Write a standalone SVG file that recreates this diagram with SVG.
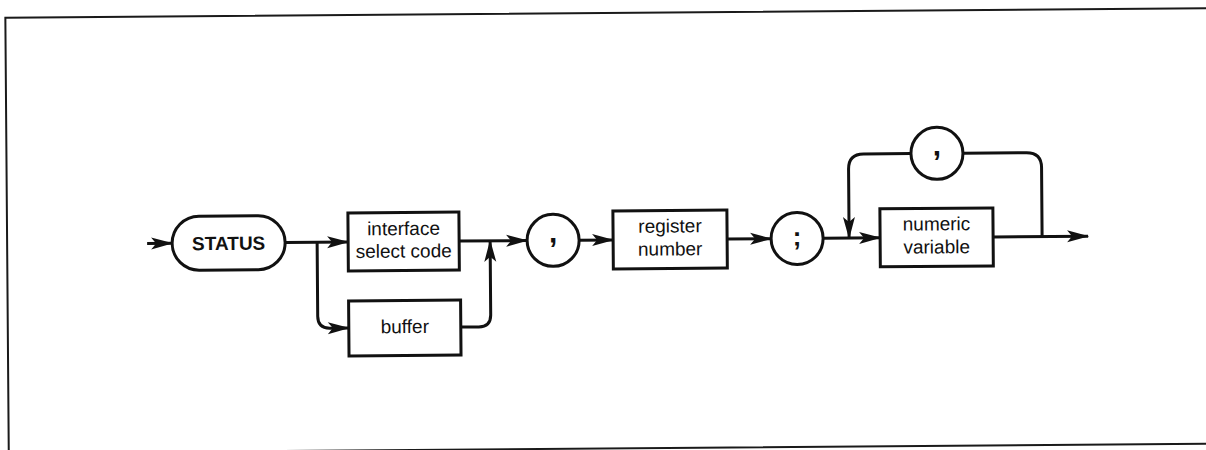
<svg xmlns="http://www.w3.org/2000/svg" width="1206" height="450" viewBox="0 0 1206 450">
  <style>
    .box { fill: #ffffff; stroke: #111111; stroke-width: 3; }
    .frame { fill: none; stroke: #1a1a1a; stroke-width: 2; }
    .line { fill: none; stroke: #111111; stroke-width: 3; }
    .lbl { font-family: "Liberation Sans", Arial, Helvetica, sans-serif; font-size: 19px; fill: #111111; text-anchor: middle; }
    .kw { font-family: "Liberation Sans", Arial, Helvetica, sans-serif; font-size: 19px; font-weight: bold; fill: #111111; text-anchor: middle; }
    .punct { font-family: "Liberation Sans", Arial, Helvetica, sans-serif; font-weight: bold; fill: #111111; text-anchor: middle; }
  </style>
  <defs>
    <marker id="arrow" viewBox="-22 -8 24 16" refX="0" refY="0" markerWidth="24" markerHeight="16" markerUnits="userSpaceOnUse" orient="auto" overflow="visible">
      <path d="M1,0 L-21,-6 L-16,0 L-21,6 Z" fill="#111111"/>
    </marker>
  </defs>
  <rect width="1206" height="450" fill="#ffffff"/>
  <g transform="rotate(-0.45 600 225)">
    <rect class="frame" x="7" y="13" width="1215" height="435.5"/>

    <g id="connectors">
      <path class="line" d="M147,240 H172" marker-end="url(#arrow)"/>
      <path class="line" d="M285,240 H348" marker-end="url(#arrow)"/>
      <path class="line" d="M317,240 V314 Q317,326 329,326 H348" marker-end="url(#arrow)"/>
      <path class="line" d="M460,326 H478 Q490,326 490,314 V240" marker-end="url(#arrow)"/>
      <path class="line" d="M459,240 H527" marker-end="url(#arrow)"/>
      <path class="line" d="M579,240 H613" marker-end="url(#arrow)"/>
      <path class="line" d="M727,240 H771" marker-end="url(#arrow)"/>
      <path class="line" d="M823,240 H880" marker-end="url(#arrow)"/>
      <path class="line" d="M993,240 H1088" marker-end="url(#arrow)"/>
      <path class="line" d="M1042,240 V171 Q1042,156 1027,156 H963.5"/>
      <path class="line" d="M911.5,156 H864 Q849,156 849,171 V240" marker-end="url(#arrow)"/>
    </g>

    <g id="node-status">
      <rect class="box" x="172" y="213" width="113" height="54" rx="27" ry="27"/>
      <text class="kw" x="228.5" y="247">STATUS</text>
    </g>

    <g id="node-interface">
      <rect class="box" x="348" y="211" width="111" height="58"/>
      <text class="lbl" x="403.5" y="233.5">interface</text>
      <text class="lbl" x="403.5" y="256">select code</text>
    </g>

    <g id="node-buffer">
      <rect class="box" x="348" y="299" width="112" height="55"/>
      <text class="lbl" x="404" y="331.5">buffer</text>
    </g>

    <g id="node-comma">
      <circle class="box" cx="553" cy="240" r="26"/>
      <text class="punct" x="553" y="242" font-size="30">,</text>
    </g>

    <g id="node-register">
      <rect class="box" x="613" y="211" width="114" height="58"/>
      <text class="lbl" x="670" y="233">register</text>
      <text class="lbl" x="670" y="256">number</text>
    </g>

    <g id="node-semicolon">
      <circle class="box" cx="797" cy="240" r="26"/>
      <text class="punct" x="797" y="247" font-size="26">;</text>
    </g>

    <g id="node-numeric">
      <rect class="box" x="880" y="211" width="113" height="58"/>
      <text class="lbl" x="936.5" y="233">numeric</text>
      <text class="lbl" x="936.5" y="256">variable</text>
    </g>

    <g id="node-loop-comma">
      <circle class="box" cx="937.5" cy="156" r="26"/>
      <text class="punct" x="937.5" y="158" font-size="30">,</text>
    </g>
  </g>
</svg>
